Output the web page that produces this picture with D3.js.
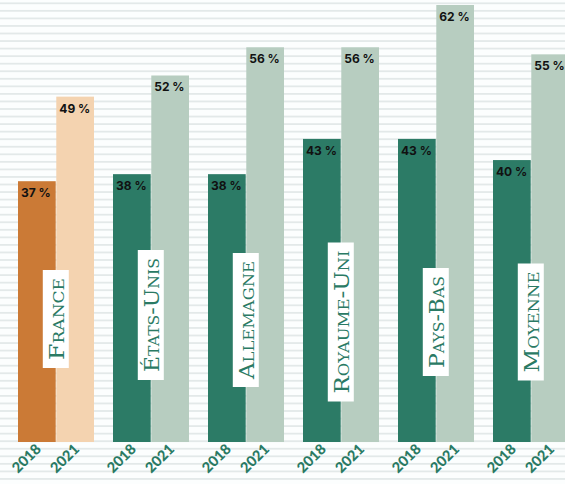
<!DOCTYPE html>
<html><head><meta charset="utf-8">
<script src="https://cdn.jsdelivr.net/npm/d3@7"></script>
<style>html,body{margin:0;padding:0;background:#fcfefe;overflow:hidden}</style>
</head><body>
<script>
const categories = ["France", "États-Unis", "Allemagne", "Royaume-Uni", "Pays-Bas", "Moyenne"];
const years = ["2018", "2021"];
const values2018 = [37, 38, 38, 43, 43, 40];
const values2021 = [49, 52, 56, 56, 62, 55];

const W = 565, H = 484;
const svg = d3.select("body").append("svg").attr("width", W).attr("height", H);

// striped background
const stripes = d3.range(3.3, H, 7.55);
svg.append("rect").attr("width", W).attr("height", H).attr("fill", "#fcfefe");
svg.append("g").selectAll("rect").data(stripes).join("rect")
  .attr("x", 0).attr("width", W).attr("y", d => d - 0.9).attr("height", 1.8)
  .attr("fill", "#e3e9e9");

const x = d3.scaleBand().domain(categories).range([18, 569]).paddingInner(0.2).paddingOuter(0);
const xi = d3.scaleBand().domain(years).range([0, x.bandwidth()]).paddingInner(0.015);
const y = d3.scaleLinear().domain([0, 62]).range([442, 5]);

const data = [];
categories.forEach((c, i) => {
  data.push({cat: c, year: "2018", v: values2018[i], i});
  data.push({cat: c, year: "2021", v: values2021[i], i});
});
const colors = {
  "France-2018": "#cb7a36", "France-2021": "#f4d3b0",
  "other-2018": "#2c7b66", "other-2021": "#b7cdc0"
};
const col = d => colors[(d.cat === "France" ? "France" : "other") + "-" + d.year];

const bars = svg.append("g").selectAll("g").data(data).join("g")
  .attr("transform", d => `translate(${x(d.cat) + xi(d.year)},0)`);
bars.append("rect")
  .attr("x", 0).attr("width", xi.bandwidth())
  .attr("y", d => y(d.v)).attr("height", d => y(0) - y(d.v))
  .attr("fill", col);
bars.append("text")
  .attr("x", 3).attr("y", d => y(d.v) + 16)
  .attr("font-family", "Inter, 'Open Sans', sans-serif").attr("font-weight", 700)
  .attr("font-size", 12).attr("fill", "#111")
  .text(d => d.v + " %");

// year labels (rotated -45deg via matrix)
const c45 = Math.SQRT1_2;
bars.append("text")
  .attr("transform", `matrix(${c45},${-c45},${c45},${c45},${xi.bandwidth() / 2 + 5},450)`)
  .attr("text-anchor", "end")
  .attr("font-family", "Lato, sans-serif").attr("font-weight", 900)
  .attr("font-size", 14.5).attr("fill", "#2a7a64")
  .text(d => d.year);

// category labels in white boxes
const textLen = {"France": 82, "États-Unis": 114, "Allemagne": 118, "Royaume-Uni": 143, "Pays-Bas": 92, "Moyenne": 101};
const centersY = {"France": 319, "États-Unis": 315, "Allemagne": 320, "Royaume-Uni": 322, "Pays-Bas": 322, "Moyenne": 322};
const lab = svg.append("g").selectAll("g").data(categories).join("g")
  .attr("transform", d => `translate(${x(d) + xi("2021") - 0.5},${centersY[d]}) rotate(-90)`);
lab.append("rect")
  .attr("x", d => -textLen[d] / 2 - 8).attr("width", d => textLen[d] + 16)
  .attr("y", -13).attr("height", 26)
  .attr("fill", "#ffffff");
lab.append("text")
  .attr("x", 0).attr("y", 8)
  .attr("text-anchor", "middle")
  .attr("font-family", "'DejaVu Serif', serif")
  .attr("font-size", 21)
  .style("font-variant", "small-caps")
  .attr("fill", "#2a7a64")
  .attr("textLength", d => textLen[d]).attr("lengthAdjust", "spacingAndGlyphs")
  .text(d => d);
</script>
</body></html>
